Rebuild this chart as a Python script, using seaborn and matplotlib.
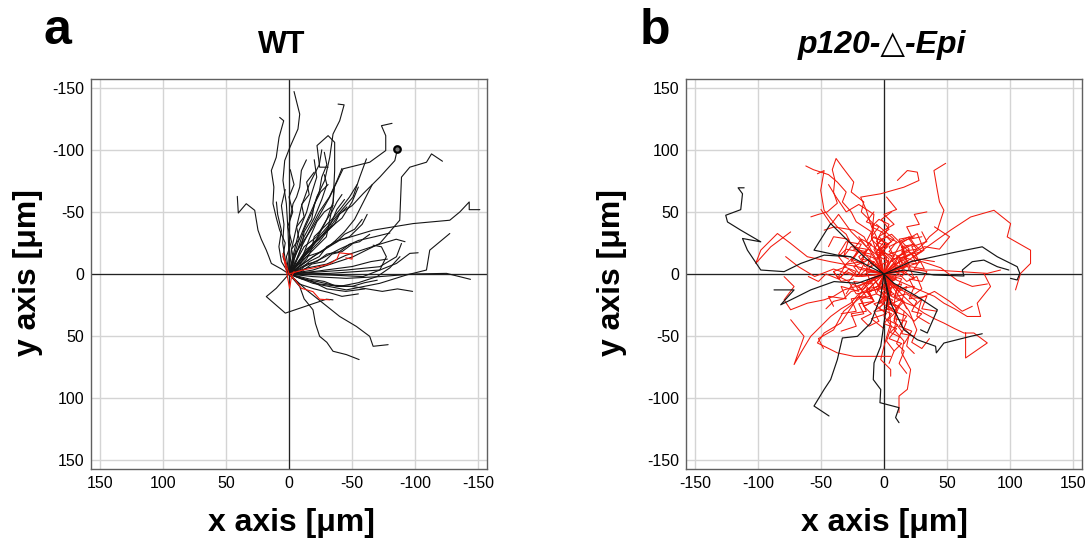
import matplotlib
matplotlib.use("Agg")
import matplotlib.pyplot as plt
import pandas as pd
import seaborn as sns

# cell tracks in um; each inner list is one track starting at the origin
wt_black_x = [
    [0, 0, 0.8, 2.1, 4.8, 3.4, -0.5, -7.1, -8.5, -4.0],
    [0, -8.5, -12, -19, -22, -28.3, -32.3, -34.9, -40.2, -43.7, -38.9],
    [0, -3.2, -19, -32.3, -42.9, -64, -76.7, -76.7, -73.3, -81.7],
    [0, -19, -30, -40.2, -50, -58.7, -72, -83.9, -86],
    [0, -19, -50.8, -72, -87.8, -89.2, -95.8, -109, -113, -121.7],
    [0, -19, -40.2, -66.7, -98.4, -127.5, -135.4, -142.9, -142.9, -151.3],
    [0, -19, -45.5, -72, -98.4, -124.9, -143.9],
    [0, -19, -45.5, -72, -93.1, -109, -111.6, -127.5],
    [0, -8.5, -12, -19, -21, -24.3, -30, -34.9, -45.5, -55.6],
    [0, -13.8, -27, -40.2, -53.4, -64, -66.7, -78.6],
    [0, 6, 14, 16, 18, 22, 24.6, 27.2, 33.9, 40.2, 41],
    [0, 10.1, 18, 2.9, -29.6, -34.9],
    [0, 4.8, 3, 7.4, 10, 12.7, 12, 14, 10.1, 7.9, 4.2, 7.4],
    [0, -29.6, -34.9, -36.2, -36.2, -31, -22.2, -24.3, -31],
    [0, -0.5, -2, -3.2, -6, -8.5, -9.8, -13.8],
    [0, -19, -34.9, -50.8, -56.1, -61.4],
    [0, -45.5, -72, -85.2, -89.2],
    [0, -32.3, -72, -85.2, -95.8, -102.4],
    [0, -32.3, -58.7, -72, -77.2, -73.3, -66.7],
    [0, -5, -12, -20, -26, -30, -28],
    [0, -8, -18, -30, -42, -50, -55],
    [0, -12, -25, -40, -55, -68, -80],
    [0, -15, -30, -45, -60, -72, -85, -92],
    [0, -10, -22, -35, -50, -60, -70],
    [0, -8, -20, -32, -42, -55],
    [0, 3, 5, 4, 6, 3],
    [0, -4, -8, -14, -18, -22, -20],
    [0, -6, -14, -24, -33, -38, -44],
    [0, -10, -16, -22, -28, -35],
    [0, -14, -26, -36, -48, -58, -62],
    [0, -20, -35, -50, -65, -78],
    [0, -18, -30, -45, -60],
    [0, -2, -6, -10, -16, -24, -26],
    [0, -5, -10, -18, -24, -32, -38, -42],
    [0, 6, 8, 6, 9, 10],
    [0, -22, -34, -44, -52, -60, -66],
    [0, -24, -40, -55, -70, -80, -88],
    [0, -7, -13, -20, -25, -31],
    [0, -12, -22, -30, -35, -36],
    [0, -4, -2, -8, -6, -12, -10, -16, -14, -20],
    [0, -8, -12, -18, -20, -26, -30, -34, -38, -42],
    [0, -10, -16, -24, -30, -38, -44, -52, -58],
    [0, -6, -10, -12, -18, -20, -24, -26, -30, -28],
    [0, -14, -22, -30, -40, -48, -56, -64],
    [0, 2, -2, 1, -3, 0, -4, -1],
    [0, -12, -20, -26, -34, -42, -48, -54],
    [0, -16, -28, -38, -50, -62, -74, -86, -98],
    [0, -10, -18, -28, -34, -42, -50],
    [0, -6, -14, -18, -24, -30, -36, -40, -46],
]
wt_black_y = [
    [0, -13.9, -35.3, -56.6, -75.3, -91.3, -101.5, -116.7, -128.7, -146.9],
    [0, -24.6, -36, -51.3, -62, -75.3, -94, -112.7, -123.4, -136.2, -136.8],
    [0, -13.9, -37.9, -62, -84.7, -90, -99.4, -111.4, -119.4, -121.3],
    [0, -24.6, -34, -48.6, -55, -64.6, -78, -91.3, -100.7],
    [0, -3.2, -13.9, -24.6, -43.3, -78, -86, -90, -96.7, -90.8],
    [0, -13.9, -27.2, -35.3, -40.6, -43.3, -49.9, -58, -51.8, -51.8],
    [0, 2.1, 3.5, 2.1, 0, -0.5, 4.3],
    [0, 7.5, 12.8, 7.5, 0.8, -3.2, -19.2, -32.6],
    [0, 10.1, 20, 28.8, 40, 50.2, 55, 62.2, 64.9, 68.9],
    [0, 12.8, 23.5, 34.2, 42.2, 50.2, 58.2, 56.9],
    [0, -4, -8.5, -14, -19.2, -28, -35.3, -51.3, -56.6, -49.1, -62.5],
    [0, 11.5, 18.2, 31.5, 20.3, 20.8],
    [0, -13.9, -25, -35.3, -45, -56.6, -70, -83.3, -94, -110, -123.4, -126.1],
    [0, -29.9, -56.6, -83.3, -106, -111.4, -103.4, -86, -86],
    [0, -43.3, -50, -56.6, -62, -70, -83.3, -91.9],
    [0, -24.6, -43.3, -62, -78, -92.7],
    [0, -3.2, -5.9, -13.9, -24.6],
    [0, -0.5, -3.2, -8.5, -16.6, -17.1],
    [0, 0.8, 2.1, -3.2, -13.9, -21.9, -23.2],
    [0, -15, -30, -45, -60, -72, -80],
    [0, -10, -22, -35, -45, -58, -70],
    [0, -6, -12, -20, -27, -30, -33],
    [0, -5, -8, -15, -20, -24, -28, -26],
    [0, 4, 6, 9, 10, 7, 5],
    [0, 8, 12, 15, 18, 16],
    [0, -12, -25, -40, -55, -68],
    [0, -18, -35, -50, -65, -78, -92],
    [0, -8, -20, -28, -40, -52, -60],
    [0, -12, -28, -42, -50, -55],
    [0, -14, -18, -26, -30, -40, -48],
    [0, -2, -4, -6, -10, -12],
    [0, 6, 12, 14, 12],
    [0, -20, -38, -55, -72, -88, -100],
    [0, -8, -22, -38, -50, -62, -75, -85],
    [0, -10, -22, -35, -48, -58],
    [0, -16, -24, -34, -44, -60, -72],
    [0, 8, 10, 7, 2, -5, -14],
    [0, -25, -40, -56, -66, -72],
    [0, -22, -30, -44, -58, -70],
    [0, -10, -20, -28, -38, -46, -56, -64, -74, -82],
    [0, -6, -14, -20, -30, -36, -44, -50, -58, -64],
    [0, -4, -10, -14, -22, -26, -32, -36, -44],
    [0, -12, -22, -34, -44, -56, -66, -78, -88, -98],
    [0, -8, -10, -16, -18, -24, -26, -32],
    [0, -14, -26, -38, -50, -62, -72, -84],
    [0, -14, -24, -36, -44, -54, -62, -72],
    [0, 4, 6, 10, 10, 12, 14, 12, 14],
    [0, -2, -8, -10, -16, -18, -24],
    [0, -4, -12, -20, -26, -34, -40, -48, -54],
]
wt_red_x = [
    [0, 4.8, -0.5, -2, -4],
    [0, -10, -20, -32, -38, -40, -50, -50, -45],
    [0, -5, -9.8, -19, -24.3, -32.3],
]
wt_red_y = [
    [0, -16.6, 11.5, 2, -2],
    [0, -3, -5, -8, -12, -17, -16, -12, -13],
    [0, 5, 11.5, 14.2, 20.3, 20.8],
]
wt_marker_x = [-86]
wt_marker_y = [-100.7]

ko_black_x = [
    [0, -26.4, -47.5, -66, -79.2, -97.7, -103, -108.3, -112.2, -97.7, -113.6, -124.1, -125.5, -113.6, -112.2, -115.7, -110.9],
    [0, 21.1, 39.6, 58.1, 77.9, 81.9, 89.8, 97.7, 105.6, 107.7, 105.6, 100.3],
    [0, 15.8, 39.6, 63.4, 62.1, 70, 79.2, 89.8, 99],
    [0, 5.3, 15.8, 26.4, 40.9, 41.5, 47.5, 68.7, 77.9],
    [0, -2.6, -10.6, -21.1, -33, -37, -42.3, -47.5, -55.5, -43.6],
    [0, 3.2, 0, -2.6, -7.9, -8.5, -2.6, -3.2, 11.9, 9.2, 11.9],
    [0, -21.1, -39.6, -58.1, -68.7, -81.9, -71.3, -87.2],
    [0, -15.8, -31.7, -42.3, -55.5, -37, -26.4],
    [0, 7.9, 26.4, 42.3, 34.3, 29],
]
ko_black_y = [
    [0, 13.9, 15.2, 8.5, 1.9, 3.2, 11.2, 19.2, 28.6, 25.9, 35.3, 41.9, 47.3, 51.8, 64.6, 69.4, 69.4],
    [0, 9.9, 13.9, 17.9, 21.9, 19.2, 13.9, 9.9, 5.9, 0.5, -4.8, -3.5],
    [0, 3.2, -0.8, -1.6, 3.2, 9.9, 11.2, 5.9, 3.2],
    [0, -23.5, -44.9, -52.9, -58.2, -63.5, -55.6, -50.2, -48.1],
    [0, -18.2, -39.5, -50.2, -51.5, -69, -85, -93, -106.3, -114.3],
    [0, -18.2, -39.5, -58.2, -71.6, -85, -93, -103.6, -107.6, -115.6, -119.7],
    [0, -7.5, -6.1, -12.8, -18.2, -24.8, -12.8, -12.8],
    [0, 13.9, 29.9, 40.6, 19.2, 15.2, 13.9],
    [0, -7.5, -18.2, -28.8, -47.5, -44.9],
]
ko_red_x = [
    [0, -6, -3, -14, -10, -22, -26, -33, -30, -37, -44, -50, -56, -62],
    [0, -4, -2, -10, -8, -18, -16, -26, -24, -33, -38, -41, -39, -40, -37, -45, -52, -58],
    [0, -8, -13.2, -20, -26.4, -30, -37, -42, -47.5, -50.2, -47.5, -52.8],
    [0, -2.6, -6, -10.6, -14, -18.5, -2.6, 15.8, 27.7, 26.4, 18.5, 10.6],
    [0, 8, 15.8, 24, 31.7, 36, 42.3, 47.5, 44, 42.3, 39.6, 48.9],
    [0, 15.8, 34.3, 52.8, 68.7, 87.2, 100.4, 97.7, 116.2, 116.2, 108.3, 104.3],
    [0, 21.1, 39.6, 60.8, 81.9, 92.4],
    [0, 8, 15.8, 26, 34.3, 40, 47.5, 56, 66, 76.6, 73.9, 84.5, 79.2],
    [0, 8, 15.8, 24, 31.7, 40, 47.5, 56, 63.4, 71.3, 81.9, 64.7, 64.7],
    [0, 5.3, 2, 10.6, 8, 15.8, 14, 21.1, 18.5, 11.9, 11.9],
    [0, -13.2, -20, -26.4, -34, -42.3, -50, -58.1, -66, -71.3, -63.4, -74],
    [0, -15.8, -22, -31.7, -40, -47.5, -60.8, -74, -79.2, -71.3, -79.2],
    [0, -21.1, -42.3, -60.8, -74, -84.5, -97.7, -101.7, -89.8, -74],
    [0, -13.2, -23.8, -34.3, -47.5, -52.8, -37, -23.8, -5.3, 5.3],
    [0, 5.3, 0, -2.6, 5.3, 5.3],
    [0, 13.2, 26.4, 31.7, 23.8, 15.8],
    [0, -15.8, -23.8, -39.6, -47.5],
    [0, -12, -26, -36, -42, -50],
    [0, -10, -8, -20, -30, -38, -44],
    [0, 12, 28, 40, 52, 62, 70],
    [0, 20, 26, 22, 30, 36],
    [0, -20, -32, -40, -52, -48],
    [0, -22, -40, -55, -68, -78],
    [0, 30, 45, 58, 70, 82],
    [0, 18, 32, 44, 52, 40],
    [0, -8, -15, -20, -12, -5, 3],
    [0, 8, 12, 20, 15, 25],
    [0, -5, 5, 2, 10, 8],
    [0, -12, -18, -25, -30],
    [0, 6, -2, 8, 0, -6],
    [0, 10, 18, 26, 30, 22],
    [0, -10, -20, -28, -36, -40],
    [0, 4, -3, 6, 14, 18],
    [0, -4, 4, -8, -14, -20],
    [0, 12, 20, 14, 24],
    [0, -6, -14, -10, -20, -26, -18, -30, -36, -28],
    [0, 8, 16, 10, 20, 28, 22, 34, 30],
    [0, -4, 6, 2, 12, 8, 18, 14, 24],
    [0, -10, -6, -18, -14, -26, -22, -34],
    [0, 4, -4, 6, -2, 8, 0, 10, 2],
    [0, 14, 10, 24, 20, 34, 30, 42],
    [0, -14, -10, -24, -20, -34, -30, -44, -40],
    [0, 6, -6, 4, -8, 2, -10, 0],
    [0, 10, 4, 16, 12, 22, 18, 28, 24, 34],
    [0, -8, -2, -14, -8, -20, -16, -26],
    [0, 12, 18, 14, 24, 30, 26, 36],
    [0, -12, -18, -14, -26, -32, -28, -40, -44],
    [0, 2, -6, 0, -10, -4, -14, -8],
    [0, 16, 24, 20, 32, 28, 40],
    [0, -18, -24, -16, -30, -36, -28],
    [0, 6, 14, 8, 18, 12, 22, 16],
    [0, -6, 2, -4, 4, -2, 6],
    [0, 20, 14, 26, 20, 30],
    [0, -20, -14, -26, -22, -34],
    [0, 10, -2, 8, -4, 6, -6],
    [0, -5, 3, -2, 8, 4, 12, 6, -2, -8, -4],
    [0, 7, 2, 12, 8, 16, 10, 4, -4, 2],
    [0, -9, -4, -14, -10, -20, -16, -8, -12, -2],
    [0, 10, 6, 18, 14, 24, 20, 12, 16, 6],
    [0, -3, 5, -1, 7, 1, 9, 3, 11, 5, 13],
    [0, -12, -8, -18, -14, -24, -18, -10, -16, -6],
    [0, 14, 20, 16, 26, 22, 30, 24, 14, 18, 8],
    [0, -4, -12, -8, -16, -10, -18, -12, -4, -8, 0],
    [0, 6, 14, 10, 18, 26, 22, 30, 24, 16],
    [0, -16, -10, -22, -28, -22, -32, -26, -16, -20],
    [0, 4, -4, 2, -6, -2, -10, -4, 4, 0],
    [0, 18, 12, 22, 28, 24, 34, 30, 20, 24],
    [0, -6, 2, -4, 6, 0, 10, 4, 14, 8],
    [0, -20, -26, -20, -30, -36, -30, -40, -34, -24],
    [0, 8, 16, 12, 4, 10, 2, -6, 0, -8],
    [0, 6, 4, 10, 8, 14, 10, 16, 12, 18],
    [0, -2, 4, 0, 6, 2, 8, 4],
    [0, 10, 8, 16, 14, 20, 18, 24],
    [0, -14, -20, -30, -36, -46, -52, -60],
    [0, -10, -16, -26, -32, -40, -46],
]
ko_red_y = [
    [0, 10, 18, 26, 34, 42, 50, 58, 66, 74, 80, 82, 84, 87],
    [0, 10, 20, 28, 40, 50, 58, 66, 74, 86, 93, 84, 76, 66, 57, 50, 48, 46],
    [0, 8, 13.9, 20, 24.6, 32, 37.9, 44, 51.3, 67.3, 83.3, 80.7],
    [0, 14, 29.9, 40, 51.3, 61.9, 64.6, 69.9, 75.3, 82, 83.3, 75.3],
    [0, 6, 13.9, 18, 24.6, 30, 35.3, 51.3, 58, 67.3, 83.3, 89.1],
    [0, 8.5, 21.9, 35.3, 45.9, 51.3, 40.6, 29.9, 19.2, 8.5, 0.5, -12.8],
    [0, 3.2, 3.2, 1.9, 0.5, 3.2],
    [0, -4, -7.5, -12, -15.5, -18, -23.5, -28, -34.2, -34.2, -23.5, -10.1, 0.5],
    [0, -10, -18.2, -26, -31.5, -36, -39.5, -44, -47.5, -47.5, -55.5, -67.6, -47.5],
    [0, -12, -23.5, -34, -44.9, -54, -63.5, -76.9, -92.9, -98.3, -111.6],
    [0, -12.8, -16, -23.5, -28, -34.2, -42, -50.2, -63.5, -72.9, -50.2, -36.8],
    [0, -7.5, -10, -12.8, -18, -20.8, -23.5, -28.8, -20.8, -10.1, -2.1],
    [0, 5.9, 9.9, 13.9, 24.6, 32.6, 19.2, 8.5, 21.9, 33.9],
    [0, -7.5, -23.5, -39.5, -47.5, -55.5, -63.5, -66.3, -66.3, -66.3],
    [0, -39.5, -58.2, -68.9, -76.9, -82.3],
    [0, 24.6, 32.6, 19.2, 13.9, 21.9],
    [0, 29.9, 35.3, 37.9, 35.3],
    [0, 20, 34, 48, 40, 52],
    [0, 30, 48, 56, 50, 62, 72],
    [0, -12, -20, -14, -22, -30, -26],
    [0, -30, -45, -55, -60, -52],
    [0, -20, -30, -45, -52, -60],
    [0, -2, 4, -2, 6, 14],
    [0, 10, 5, -5, -10, -8],
    [0, 14, 22, 20, 30, 38],
    [0, 10, 6, 14, 20, 15, 22],
    [0, -5, 4, 8, 14, 10],
    [0, -10, -15, -25, -30, -38],
    [0, -4, -12, -8, -16],
    [0, 12, 20, 28, 35, 40],
    [0, 2, -6, -2, -12, -18],
    [0, 2, -2, 4, -4, 2],
    [0, -8, -18, -24, -20, -28],
    [0, 15, 24, 30, 22, 30],
    [0, 14, 20, 26, 30],
    [0, 8, 4, 16, 18, 10, 24, 26, 16, 12],
    [0, 6, 0, 14, 18, 10, 22, 26, 34],
    [0, -10, -14, -24, -26, -36, -38, -48, -50],
    [0, -6, -16, -20, -30, -32, -42, -46],
    [0, 12, 20, 26, 34, 40, 48, 52, 62],
    [0, -4, -12, -10, -20, -18, -28, -30],
    [0, 2, -8, -6, -14, -10, -20, -18, -26],
    [0, -8, -12, -20, -24, -32, -36, -44],
    [0, 10, 16, 20, 28, 30, 38, 40, 48, 50],
    [0, -4, -12, -14, -22, -24, -32, -34],
    [0, -14, -10, -22, -26, -20, -34, -40],
    [0, 12, 8, 20, 22, 14, 28, 30, 22],
    [0, 14, 18, 26, 30, 38, 42, 50],
    [0, 2, -4, 6, 4, 12, 10],
    [0, -2, 6, 10, 8, -2, -6],
    [0, -18, -22, -30, -34, -42, -46, -56],
    [0, 18, 24, 30, 36, 44, 50],
    [0, 8, 18, 20, 28, 30],
    [0, -10, -18, -20, -30, -32],
    [0, -4, -10, -16, -22, -28, -30],
    [0, 6, 10, 18, 14, 22, 26, 32, 28, 20, 12],
    [0, -5, -12, -10, -18, -22, -28, -20, -24, -14],
    [0, -3, -10, -12, -20, -18, -26, -22, -14, -8],
    [0, 5, 12, 14, 22, 24, 30, 26, 18, 10],
    [0, -7, -11, -17, -21, -27, -31, -37, -41, -47, -51],
    [0, 4, 10, 12, 18, 20, 28, 24, 16, 12],
    [0, -2, 4, 10, 8, 16, 18, 24, 20, 12, 8],
    [0, -12, -14, -22, -26, -32, -36, -42, -38, -30, -24],
    [0, -10, -8, -18, -16, -22, -30, -32, -38, -30],
    [0, -8, -14, -16, -6, 2, 6, 12, 8, 0],
    [0, 10, 14, 22, 26, 34, 38, 44, 40, 30],
    [0, 6, 12, 16, 10, 4, 2, -6, -4, -12],
    [0, -16, -20, -28, -32, -40, -44, -52, -56, -62],
    [0, 4, 12, 18, 20, 14, 6, 2, -6, -4],
    [0, 8, 4, 14, 18, 26, 30, 24, 16, 12],
    [0, -10, -20, -28, -38, -46, -56, -62, -72, -80],
    [0, -14, -22, -34, -42, -54, -62, -72],
    [0, -12, -24, -30, -42, -48, -58, -64],
    [0, 4, -2, 2, -4, 0, -6, -2],
    [0, -6, -12, -14, -20, -22, -28],
]

ticks = [-150, -100, -50, 0, 50, 100, 150]
lim = 157


def tracks_df(xs, ys, name):
    rows = []
    for i, (tx, ty) in enumerate(zip(xs, ys)):
        for j, (x, y) in enumerate(zip(tx, ty)):
            rows.append((f"{name}{i}", j, x, y))
    return pd.DataFrame(rows, columns=["track", "step", "x", "y"])


sns.set_style("white")
plt.rcParams["font.family"] = ["Liberation Sans", "DejaVu Sans"]
plt.rcParams["axes.unicode_minus"] = False
plt.rcParams["text.color"] = "black"

BLACK = "#151515"
RED = "#f2190c"

fig = plt.figure(figsize=(10.89, 5.38), dpi=100)
ax_a = fig.add_axes([91 / 1089, 1 - 469 / 538, 396 / 1089, 390 / 538])
ax_b = fig.add_axes([686 / 1089, 1 - 469 / 538, 396 / 1089, 390 / 538])

for ax in (ax_a, ax_b):
    ax.axhline(0, color="#222222", lw=0.9, zorder=1)
    ax.axvline(0, color="#222222", lw=0.9, zorder=1)

wt_black = tracks_df(wt_black_x, wt_black_y, "wb")
wt_red = tracks_df(wt_red_x, wt_red_y, "wr")
ko_black = tracks_df(ko_black_x, ko_black_y, "kb")
ko_red = tracks_df(ko_red_x, ko_red_y, "kr")

kw = dict(x="x", y="y", units="track", estimator=None, sort=False, legend=False)
sns.lineplot(data=wt_black, ax=ax_a, color=BLACK, lw=0.8, **kw)
sns.lineplot(data=wt_red, ax=ax_a, color=RED, lw=0.8, **kw)
sns.scatterplot(x=wt_marker_x, y=wt_marker_y, ax=ax_a, marker="o", s=22,
                facecolor="#777777", edgecolor="black", linewidth=1.6, zorder=5)

sns.lineplot(data=ko_red, ax=ax_b, color=RED, lw=0.75, **kw)
sns.lineplot(data=ko_black, ax=ax_b, color=BLACK, lw=0.85, **kw)

for ax in (ax_a, ax_b):
    ax.set_xticks(ticks)
    ax.set_yticks(ticks)
    ax.grid(True, color="#d4d4d4", lw=1.0)
    ax.set_axisbelow(True)
    ax.tick_params(length=0, pad=5, labelsize=11.5, labelcolor="black")
    ax.set_xlabel("")
    ax.set_ylabel("")
    for sp in ax.spines.values():
        sp.set_color("#606060")
        sp.set_linewidth(1.0)

# WT panel: both axes reversed
ax_a.set_xlim(lim, -lim)
ax_a.set_ylim(lim, -lim)
ax_b.set_xlim(-lim, lim)
ax_b.set_ylim(-lim, lim)

# panel letters and titles
fig.text(57 / 1089, 1 - 31 / 538, "a", fontsize=36, fontweight="bold", ha="center", va="center")
fig.text(655 / 1089, 1 - 31 / 538, "b", fontsize=36, fontweight="bold", ha="center", va="center")
fig.text(282 / 1089, 1 - 45 / 538, "WT", fontsize=22, fontweight="bold", ha="center", va="center")
fig.text(882 / 1089, 1 - 45 / 538, "p120-△-Epi", fontsize=23, fontweight="bold", style="italic",
         ha="center", va="center")

# axis labels
for cx in (291 / 1089, 884 / 1089):
    fig.text(cx, 1 - 531 / 538, "x axis [μm]", fontsize=23, fontweight="bold", ha="center", va="baseline")
for cx in (28 / 1089, 612 / 1089):
    fig.text(cx, 1 - 273 / 538, "y axis [μm]", fontsize=23, fontweight="bold", rotation=90,
             ha="center", va="center")

fig.savefig("out.png", dpi=100)
